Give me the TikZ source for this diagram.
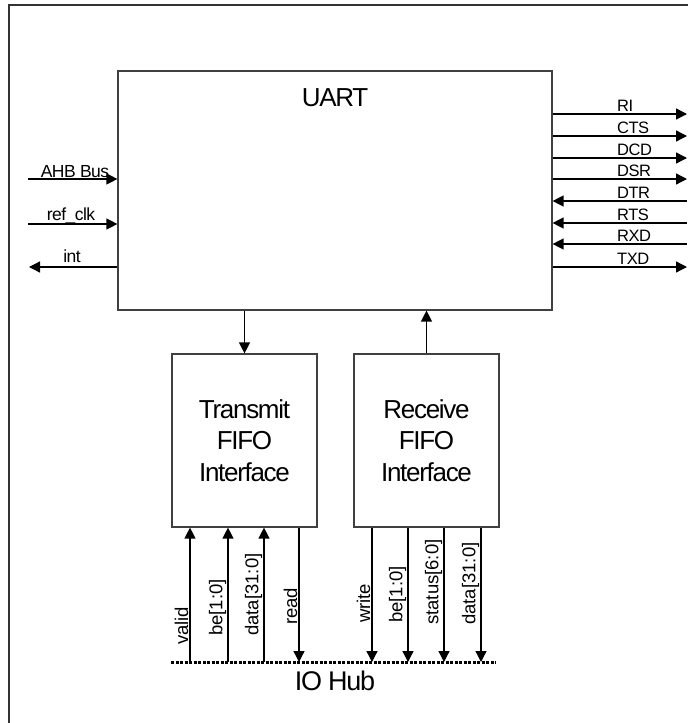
\documentclass[tikz,border=0pt]{standalone}
\usepackage{fontspec}
\setmainfont{Liberation Sans}
\newfontfamily\bigf[LetterSpace=-5]{Liberation Sans}
\newfontfamily\smallf[LetterSpace=-3]{Liberation Sans}
\usetikzlibrary{arrows.meta}
\begin{document}
\begin{tikzpicture}[x=1pt,y=-1pt,
  box/.style={draw=black!75, line width=1.2pt, rectangle, inner sep=0pt},
  sig/.style={line width=1.3pt, -{Triangle[length=11pt,width=11pt]}},
  title/.style={font=\bigf\fontsize{26}{31.5}\selectfont, align=center},
  lbl/.style={font=\smallf\fontsize{16.5}{18}\selectfont, inner sep=0pt},
  llbl/.style={font=\smallf\fontsize{17.5}{20}\selectfont, inner sep=0pt, anchor=base},
  vlbl/.style={font=\fontsize{18.5}{20}\selectfont, inner sep=0pt, rotate=90, anchor=south west},
]
\useasboundingbox (0,0) rectangle (688,723);
% frame
\draw[line width=2pt, black!80] (9,723) -- (9,5) -- (688,5);

% boxes
\node[box, minimum width=434pt, minimum height=239pt] (uart) at (335,190.5) {};
\node[title, inner sep=0pt, anchor=base] (uartt) at (335,106) {UART};
\node[box, title, minimum width=145pt, minimum height=173pt] (tx) at (244.5,440.5) {Transmit\\FIFO\\Interface};
\node[box, title, minimum width=145pt, minimum height=173pt] (rx) at (426.5,440.5) {Receive\\FIFO\\Interface};

\draw[sig] (uart.south -| tx.north) -- (tx.north);
\draw[sig] (rx.north) -- (uart.south -| rx.north);

% left signals
\coordinate (ahb) at (28,179);
\coordinate (clk) at (28,224);
\coordinate (int) at (29,267);
\draw[sig] (ahb) -- (ahb -| uart.west);
\draw[sig] (clk) -- (clk -| uart.west);
\draw[sig] (int -| uart.west) -- (int);
\node[llbl] (ahbl) at (75,177) {AHB Bus};
\node[llbl] (clkl) at (71,220) {ref\_clk};
\node[llbl] (intl) at (72,262) {int};

% right signals
\foreach \nm/\yy/\dir in {RI/114/o, CTS/136/o, DCD/158/o, DSR/179/o, DTR/201/i, RTS/223/i, RXD/244/i, TXD/267/o}{
  \coordinate (p\nm) at (687,\yy);
  \if o\dir
    \draw[sig] (uart.east |- p\nm) -- (p\nm);
  \else
    \draw[sig] (p\nm) -- (uart.east |- p\nm);
  \fi
  \node[lbl, anchor=base west] (l\nm) at (617,\yy-3) {\nm};
}

% IO hub
\coordinate (hubL) at (171,662);
\coordinate (hubR) at (496,662);
\draw[line width=3pt, dash pattern=on 3pt off 1.5pt] (hubL) -- (hubR);
\node[font=\bigf\fontsize{27}{30}\selectfont, inner sep=0pt, anchor=base] (hub) at (335,690) {IO Hub};

% transmit side
\foreach \i/\xx/\yb/\txt in {a/190/645/valid, b/228/636/be[1:0], c/264/636/data[31:0]}{
  \coordinate (h\i) at (\xx,662);
  \draw[sig] (h\i) -- (h\i |- tx.south);
  \node[vlbl] (v\i) at (\xx-1.5,\yb) {\txt};
}
\coordinate (hd) at (299,662);
\draw[sig] (hd |- tx.south) -- (hd);
\node[vlbl] (vd) at (297.5,625) {read};

% receive side
\foreach \i/\xx/\yb/\txt in {e/372/623/write, f/408/623/be[1:0], g/444/625/status[6:0], h/481/625/data[31:0]}{
  \coordinate (h\i) at (\xx,662);
  \draw[sig] (h\i |- rx.south) -- (h\i);
  \node[vlbl] (v\i) at (\xx-1.5,\yb) {\txt};
}
\end{tikzpicture}
\end{document}
